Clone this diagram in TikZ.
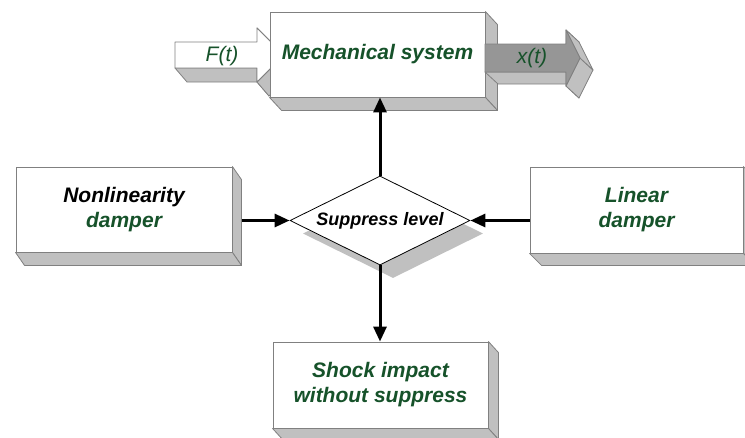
\documentclass[tikz,border=0pt]{standalone}
\usepackage{fontspec}
\setmainfont{Liberation Sans}
\usetikzlibrary{shapes.geometric,arrows.meta}

\definecolor{txtgreen}{RGB}{22,82,42}
\definecolor{facegrey}{RGB}{192,192,192}
\definecolor{edgegrey}{RGB}{128,128,128}
\definecolor{darkface}{RGB}{150,150,150}

\tikzset{
  block/.style={draw=edgegrey, line width=0.9pt, fill=white, inner sep=0pt,
    align=center, text=txtgreen,
    font=\fontsize{21}{25}\selectfont\bfseries\itshape},
  face/.style={fill=facegrey, draw=edgegrey, line width=0.8pt, line join=round},
  arrowtext/.style={inner sep=0pt, text=txtgreen,
    font=\fontsize{21}{25}\selectfont\itshape},
  decision/.style={diamond, aspect=2, minimum width=180pt, minimum height=89pt,
    inner sep=0pt, font=\fontsize{18}{22}\selectfont\bfseries\itshape},
  flow/.style={line width=3pt, -{Triangle[length=15pt,width=13pt]}},
}

% one slanted side face of an extruded shape: edge #1--#2 pushed by (#3,#4)
\newcommand\sideface[4]{%
  \filldraw[face] (#1) -- (#2) -- ([shift={(#3,#4)}]#2) -- ([shift={(#3,#4)}]#1) -- cycle;}

\begin{document}
\begin{tikzpicture}[x=1pt,y=-1pt]
\useasboundingbox (0,0) rectangle (745,437);

% input arrow F(t)
\coordinate (f1) at (175,42);
\coordinate (f2) at (257,42);
\coordinate (f3) at (257,28);
\coordinate (f4) at (284,55);
\coordinate (f5) at (257,82);
\coordinate (f6) at (257,68);
\coordinate (f7) at (175,68);
\sideface{f7}{f6}{12}{14}
\sideface{f6}{f5}{12}{14}
\sideface{f5}{f4}{12}{14}
\sideface{f3}{f4}{12}{14}
\filldraw[fill=white, draw=edgegrey, line width=0.8pt, line join=round]
  (f1) -- (f2) -- (f3) -- (f4) -- (f5) -- (f6) -- (f7) -- cycle;
\node[arrowtext] (F) at (222,56) {F(t)};

% mechanical system
\node[block, minimum width=215pt, minimum height=85pt] (mech) at (377.5,54.5) {Mechanical system};
\sideface{mech.north east}{mech.south east}{12}{13}
\sideface{mech.south west}{mech.south east}{12}{13}

% output arrow x(t)
\coordinate (x1) at (485,44);
\coordinate (x2) at (566,44);
\coordinate (x3) at (566,30);
\coordinate (x4) at (580,58);
\coordinate (x5) at (566,86);
\coordinate (x6) at (566,72);
\coordinate (x7) at (485,72);
\sideface{x2}{x3}{13}{12}
\sideface{x7}{x6}{13}{12}
\sideface{x6}{x5}{13}{12}
\sideface{x5}{x4}{13}{12}
\sideface{x3}{x4}{13}{12}
\filldraw[fill=darkface, draw=edgegrey, line width=0.8pt, line join=round]
  (x1) -- (x2) -- (x3) -- (x4) -- (x5) -- (x6) -- (x7) -- cycle;
\node[arrowtext] (X) at (532,58) {x(t)};

% dampers
\node[block, text=black, minimum width=216pt, minimum height=85pt] (nonlin) at (124,209.5)
  {Nonlinearity\\\textcolor{txtgreen}{damper}};
\sideface{nonlin.north east}{nonlin.south east}{9}{13}
\sideface{nonlin.south west}{nonlin.south east}{9}{13}

\node[block, minimum width=213pt, minimum height=86pt] (lin) at (636.5,210)
  {Linear\\damper};
\sideface{lin.north east}{lin.south east}{12}{12}
\sideface{lin.south west}{lin.south east}{12}{12}

% result
\node[block, minimum width=215pt, minimum height=86pt] (shock) at (380.5,385)
  {Shock impact\\without suppress};
\sideface{shock.north east}{shock.south east}{10}{11}
\sideface{shock.south west}{shock.south east}{10}{11}

% decision diamond with its shadow
\node[decision, fill=facegrey] (supshadow) at (393,233.5) {};
\node[decision, draw=black, line width=0.8pt, fill=white] (sup) at (380,220.5) {Suppress level};

% connectors
\coordinate (nl) at (sup.west -| nonlin.east);
\coordinate (ld) at (sup.east -| lin.west);
\draw[flow] ([xshift=10pt]nl) -- (sup.west);
\draw[flow] (ld) -- (sup.east);
\draw[flow] (sup.north) -- (sup.north |- mech.south);
\draw[flow] (sup.south) -- (sup.south |- shock.north);
\end{tikzpicture}
\end{document}
